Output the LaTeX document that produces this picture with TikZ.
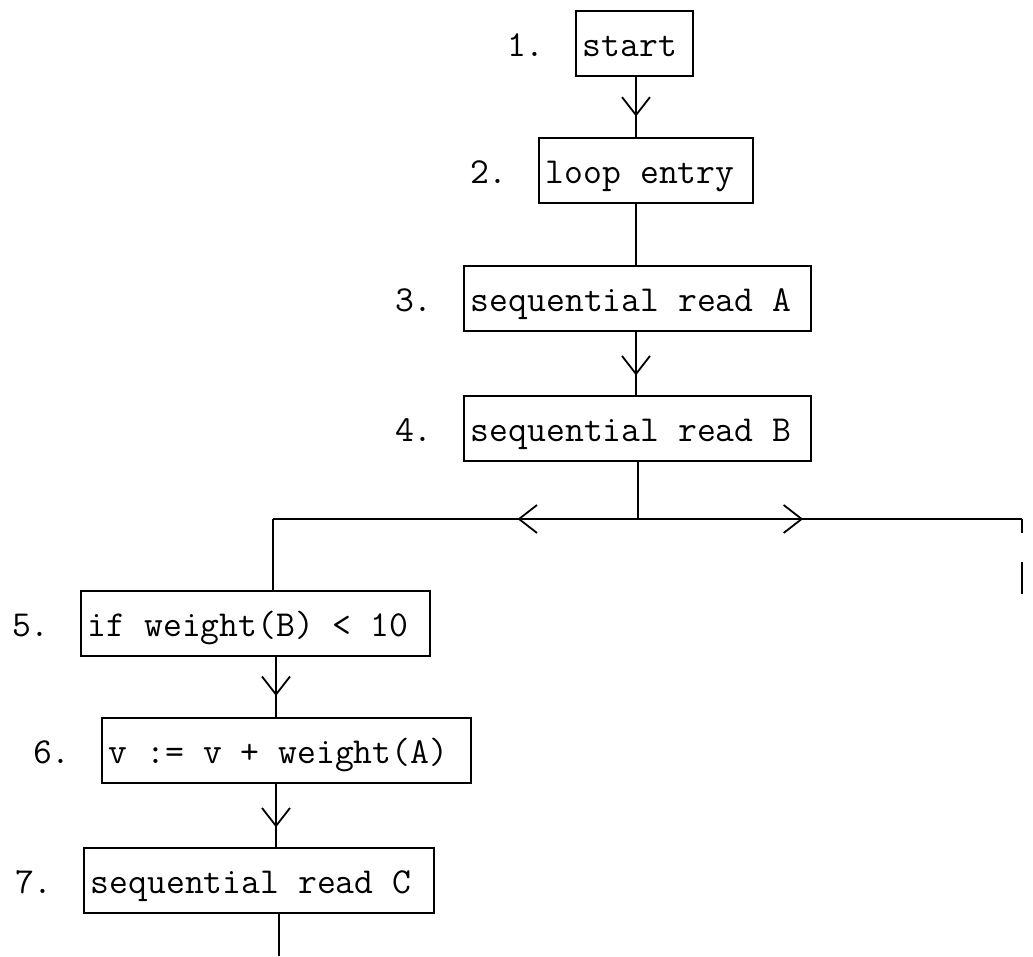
\documentclass[tikz,border=0pt]{standalone}
\usepackage{fontspec}
\usetikzlibrary{arrows.meta,decorations.markings}
\newcommand\mytt{\ttfamily\fontsize{36.6pt}{44pt}\selectfont}
\newcommand\lbox[2]{\makebox[#1][l]{#2}}
\tikzset{
  tipV/.tip={Straight Barb[length=18pt,width=28pt]},
  txt/.style={font=\mytt},
  box/.style={txt, draw, line width=1.8pt, anchor=north west,
    inner xsep=7pt, inner ysep=10pt, text height=36pt, text depth=9pt},
  lab/.style={txt, anchor=base east, inner sep=0pt},
  conn/.style={line width=1.8pt},
  vmark/.style={postaction={decorate, decoration={markings,
    mark=at position #1 with {\arrow{tipV}}}}}
}
\begin{document}
\begin{tikzpicture}[x=1pt,y=-1pt]
\useasboundingbox (0,0) rectangle (1033,956);
% boxes
\node[box] (b1) at (575,10) {\lbox{103pt}{start}};
\node[box] (b2) at (538,137) {\lbox{200pt}{loop entry}};
\node[box] (b3) at (463,265) {\lbox{333pt}{sequential read A}};
\node[box] (b4) at (463,395) {\lbox{333pt}{sequential read B}};
\node[box] (b5) at (80,590) {\lbox{335pt}{if weight(B) < 10}};
\node[box] (b6) at (101,717) {\lbox{355pt}{v := v + weight(A)}};
\node[box] (b7) at (83,847) {\lbox{336pt}{sequential read C}};
% numbers
\node[lab] (n1) at ([xshift=-30pt]b1.base west) {1.};
\node[lab] (n2) at ([xshift=-30pt]b2.base west) {2.};
\node[lab] (n3) at ([xshift=-30pt]b3.base west) {3.};
\node[lab] (n4) at ([xshift=-30pt]b4.base west) {4.};
\node[lab] (n5) at ([xshift=-30pt]b5.base west) {5.};
\node[lab] (n6) at ([xshift=-30pt]b6.base west) {6.};
\node[lab] (n7) at ([xshift=-30pt]b7.base west) {7.};
% column coordinates
\coordinate (cu) at (636,0);
\coordinate (j) at (638,519);
\coordinate (cl) at (273,519);
\coordinate (cr) at (1022,519);
\coordinate (cr2) at (1022,533);
\coordinate (cr3) at (1022,562);
\coordinate (cr4) at (1022,594);
\coordinate (cd) at (276,0);
\coordinate (bot) at (279,956);
% connectors
\draw[conn, vmark=0.66] (b1.south -| cu) -- (b2.north -| cu);
\draw[conn] (b2.south -| cu) -- (b3.north -| cu);
\draw[conn, vmark=0.69] (b3.south -| cu) -- (b4.north -| cu);
\draw[conn] (b4.south -| j) -- (j);
\draw[conn, vmark=0.33] (j) -- (cl);
\draw[conn, vmark=0.43] (j) -- (cr);
\draw[conn] (cr) -- (cr2);
\draw[conn] (cr3) -- (cr4);
\draw[conn] (cl) -- (b5.north -| cl);
\draw[conn, vmark=0.65] (b5.south -| cd) -- (b6.north -| cd);
\draw[conn, vmark=0.69] (b6.south -| cd) -- (b7.north -| cd);
\draw[conn] (b7.south -| bot) -- (bot);
\end{tikzpicture}
\end{document}
